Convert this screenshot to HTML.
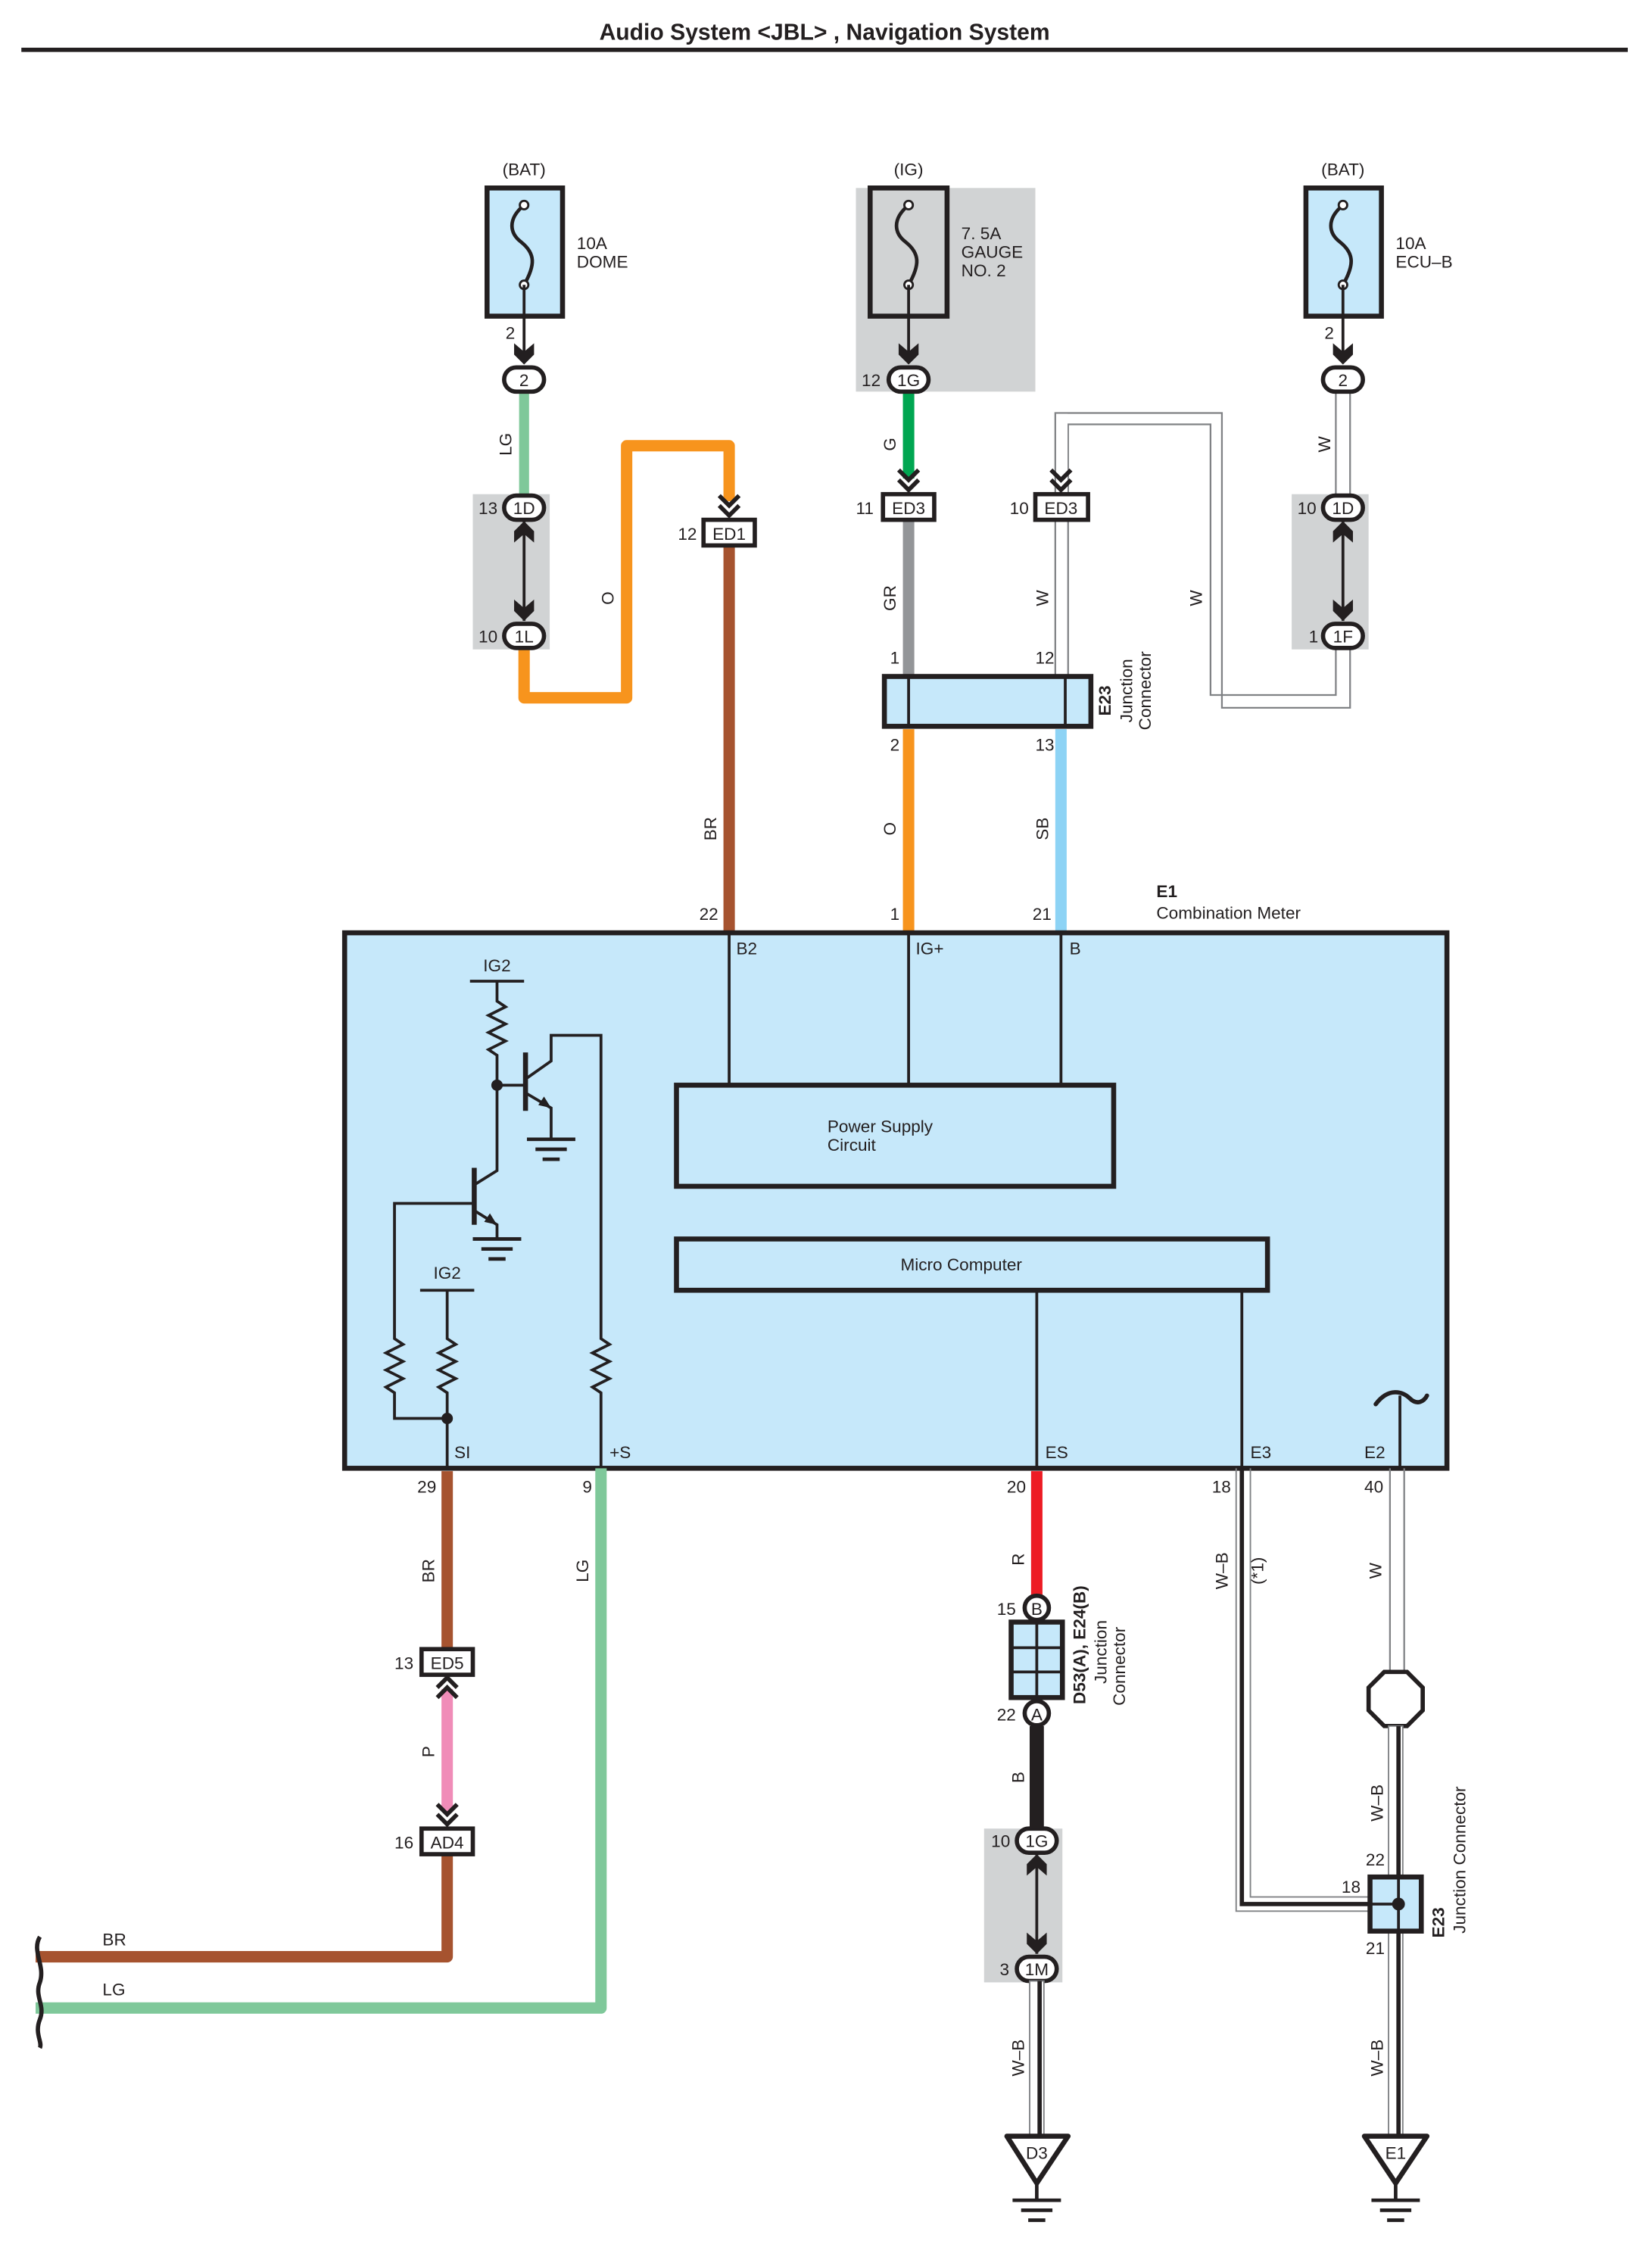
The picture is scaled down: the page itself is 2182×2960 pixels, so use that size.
<!DOCTYPE html>
<html><head><meta charset="utf-8"><style>
html,body{margin:0;padding:0;background:#fff;}
svg{display:block;}
text{font-family:"Liberation Sans",Arial,sans-serif;fill:#231f20;}
</style></head><body>
<svg width="2182" height="2960" viewBox="0 0 1160 1573.6" preserveAspectRatio="none" xmlns="http://www.w3.org/2000/svg">
<defs>
<g id="dn"><polygon points="-7,-15 0,-9 7,-15 7,-7 0,0 -7,-7" fill="#231f20"/></g>
<g id="up"><polygon points="-7,15 0,9 7,15 7,7 0,0 -7,7" fill="#231f20"/></g>
<g id="dd"><polyline points="-7,-16 0,-9 7,-16" fill="none" stroke="#231f20" stroke-width="3"/><polyline points="-7,-9 0,-2 7,-9" fill="none" stroke="#231f20" stroke-width="3"/></g>
<g id="du"><polyline points="-7,16 0,9 7,16" fill="none" stroke="#231f20" stroke-width="3"/><polyline points="-7,9 0,2 7,9" fill="none" stroke="#231f20" stroke-width="3"/></g>
<g id="fuse"><path d="M0,-28 C-12,-18 -10,-8 -2,-2 C8,6 8,14 0,28" fill="none" stroke="#231f20" stroke-width="2.5"/><circle cx="0" cy="-28" r="3" fill="#fff" stroke="#231f20" stroke-width="1.5"/><circle cx="0" cy="28" r="3" fill="#fff" stroke="#231f20" stroke-width="1.5"/></g>
<g id="gnd"><line x1="-17" y1="0" x2="17" y2="0" stroke="#231f20" stroke-width="2.5"/><line x1="-11" y1="7" x2="11" y2="7" stroke="#231f20" stroke-width="2.5"/><line x1="-6" y1="14" x2="6" y2="14" stroke="#231f20" stroke-width="2.5"/></g>
</defs>

<!-- title -->
<text x="579" y="28" font-size="16" font-weight="bold" text-anchor="middle">Audio System &lt;JBL&gt; , Navigation System</text>
<line x1="15" y1="35" x2="1143" y2="35" stroke="#231f20" stroke-width="3"/>

<!-- gray backgrounds -->
<rect x="601" y="132" width="126" height="143" fill="#d1d3d4"/>
<rect x="332" y="347" width="54" height="109" fill="#d1d3d4"/>
<rect x="907" y="347" width="54" height="109" fill="#d1d3d4"/>
<rect x="691" y="1284" width="55" height="108" fill="#d1d3d4"/>

<!-- fuses -->
<text x="368" y="123" font-size="12" text-anchor="middle">(BAT)</text>
<rect x="342" y="132" width="53" height="90" fill="#c6e8fa" stroke="#231f20" stroke-width="3.5"/>
<use href="#fuse" x="368" y="172"/>
<text x="405" y="175" font-size="12">10A</text><text x="405" y="188" font-size="12">DOME</text>

<text x="638" y="123" font-size="12" text-anchor="middle">(IG)</text>
<rect x="611" y="132" width="54" height="90" fill="#d1d3d4" stroke="#231f20" stroke-width="3.5"/>
<use href="#fuse" x="638" y="172"/>
<text x="675" y="168" font-size="12">7. 5A</text><text x="675" y="181" font-size="12">GAUGE</text><text x="675" y="194" font-size="12">NO. 2</text>

<text x="943" y="123" font-size="12" text-anchor="middle">(BAT)</text>
<rect x="917" y="132" width="53" height="90" fill="#c6e8fa" stroke="#231f20" stroke-width="3.5"/>
<use href="#fuse" x="943" y="172"/>
<text x="980" y="175" font-size="12">10A</text><text x="980" y="188" font-size="12">ECU–B</text>

<!-- fuse leads -->
<line x1="368" y1="200" x2="368" y2="255" stroke="#231f20" stroke-width="2"/>
<use href="#dn" x="368" y="256"/>
<text x="355" y="238" font-size="12">2</text>
<line x1="638" y1="200" x2="638" y2="255" stroke="#231f20" stroke-width="2"/>
<use href="#dn" x="638" y="256"/>
<line x1="943" y1="200" x2="943" y2="255" stroke="#231f20" stroke-width="2"/>
<use href="#dn" x="943" y="256"/>
<text x="930" y="238" font-size="12">2</text>

<!-- LG wire top left -->
<line x1="368" y1="272" x2="368" y2="350" stroke="#7fc89a" stroke-width="7"/>
<text transform="translate(359,312) rotate(-90)" font-size="12" text-anchor="middle">LG</text>
<line x1="368" y1="366" x2="368" y2="436" stroke="#231f20" stroke-width="2"/>
<use href="#up" x="368" y="366"/><use href="#dn" x="368" y="436"/>

<!-- orange O wire -->
<polyline points="368,452 368,490 440,490 440,313 512,313 512,352" fill="none" stroke="#f7941d" stroke-width="8" stroke-linejoin="round"/>
<text transform="translate(431,420) rotate(-90)" font-size="12" text-anchor="middle">O</text>
<use href="#dd" x="512" y="364"/>

<!-- BR to meter -->
<line x1="512" y1="383" x2="512" y2="654" stroke="#a6532f" stroke-width="8"/>
<text transform="translate(503,582) rotate(-90)" font-size="12" text-anchor="middle">BR</text>
<rect x="494" y="365" width="36" height="18" fill="#fff" stroke="#231f20" stroke-width="3"/>
<text x="512" y="379" font-size="12" text-anchor="middle">ED1</text>
<text x="476" y="379" font-size="12">12</text>

<!-- G wire -->
<line x1="638" y1="274" x2="638" y2="336" stroke="#00a651" stroke-width="8"/>
<text transform="translate(629,312) rotate(-90)" font-size="12" text-anchor="middle">G</text>
<use href="#dd" x="638" y="346"/>
<line x1="638" y1="365" x2="638" y2="476" stroke="#939598" stroke-width="8"/>
<text transform="translate(629,420) rotate(-90)" font-size="12" text-anchor="middle">GR</text>
<rect x="620" y="347" width="36" height="18" fill="#fff" stroke="#231f20" stroke-width="3"/>
<text x="638" y="361" font-size="12" text-anchor="middle">ED3</text>
<text x="601" y="361" font-size="12">11</text>

<!-- W double line -->
<g fill="none" stroke="#808285" stroke-width="1.2">
<polyline points="741,352 741,290 858,290 858,497 948,497 948,456"/>
<polyline points="750,352 750,298 850,298 850,488 938,488 938,456"/>
<line x1="741" y1="365" x2="741" y2="476"/><line x1="750" y1="365" x2="750" y2="476"/>
<line x1="938" y1="274" x2="938" y2="347"/><line x1="948" y1="274" x2="948" y2="347"/>
</g>
<rect x="741.6" y="290.6" width="8" height="61" fill="#fff"/>
<use href="#dd" x="745" y="346"/>
<text transform="translate(736,420) rotate(-90)" font-size="12" text-anchor="middle">W</text>
<text transform="translate(844,420) rotate(-90)" font-size="12" text-anchor="middle">W</text>
<text transform="translate(934,312) rotate(-90)" font-size="12" text-anchor="middle">W</text>
<rect x="727" y="347" width="37" height="18" fill="#fff" stroke="#231f20" stroke-width="3"/>
<text x="745" y="361" font-size="12" text-anchor="middle">ED3</text>
<text x="709" y="361" font-size="12">10</text>
<line x1="943" y1="366" x2="943" y2="436" stroke="#231f20" stroke-width="2"/>
<use href="#up" x="943" y="366"/><use href="#dn" x="943" y="436"/>

<!-- ovals -->
<g stroke="#231f20" stroke-width="3" fill="#fff">
<rect x="354" y="258" width="28" height="17" rx="8.5"/>
<rect x="624" y="258" width="28" height="17" rx="8.5"/>
<rect x="929" y="258" width="28" height="17" rx="8.5"/>
<rect x="354" y="348" width="28" height="17" rx="8.5"/>
<rect x="354" y="438" width="28" height="17" rx="8.5"/>
<rect x="929" y="348" width="28" height="17" rx="8.5"/>
<rect x="929" y="438" width="28" height="17" rx="8.5"/>
<rect x="714" y="1284" width="28" height="17" rx="8.5"/>
<rect x="714" y="1374" width="28" height="17" rx="8.5"/>
</g>
<g font-size="12" text-anchor="middle">
<text x="368" y="271">2</text><text x="638" y="271">1G</text><text x="943" y="271">2</text>
<text x="368" y="361">1D</text><text x="368" y="451">1L</text>
<text x="943" y="361">1D</text><text x="943" y="451">1F</text>
<text x="728" y="1297">1G</text><text x="728" y="1387">1M</text>
</g>
<g font-size="12">
<text x="605" y="271">12</text>
<text x="336" y="361">13</text><text x="336" y="451">10</text>
<text x="911" y="361">10</text><text x="919" y="451">1</text>
<text x="696" y="1297">10</text><text x="702" y="1387">3</text>
</g>

<!-- E23 top -->
<text x="625" y="466" font-size="12">1</text><text x="727" y="466" font-size="12">12</text>
<rect x="621" y="475" width="145" height="35" fill="#c6e8fa" stroke="#231f20" stroke-width="3.5"/>
<line x1="638" y1="475" x2="638" y2="510" stroke="#231f20" stroke-width="2"/>
<line x1="748" y1="475" x2="748" y2="510" stroke="#231f20" stroke-width="2"/>
<text transform="translate(780,492) rotate(-90)" font-size="12" font-weight="bold" text-anchor="middle">E23</text>
<text transform="translate(795,485) rotate(-90)" font-size="12" text-anchor="middle">Junction</text>
<text transform="translate(808,485) rotate(-90)" font-size="12" text-anchor="middle">Connector</text>

<line x1="638" y1="512" x2="638" y2="654" stroke="#f7941d" stroke-width="8"/>
<line x1="745" y1="512" x2="745" y2="654" stroke="#8dd3f5" stroke-width="8"/>
<text x="625" y="527" font-size="12">2</text><text x="727" y="527" font-size="12">13</text>
<text transform="translate(629,582) rotate(-90)" font-size="12" text-anchor="middle">O</text>
<text transform="translate(736,582) rotate(-90)" font-size="12" text-anchor="middle">SB</text>
<text x="491" y="646" font-size="12">22</text><text x="625" y="646" font-size="12">1</text><text x="725" y="646" font-size="12">21</text>
<text x="812" y="630" font-size="12" font-weight="bold">E1</text>
<text x="812" y="645" font-size="12">Combination Meter</text>

<!-- Meter box -->
<rect x="242" y="655" width="774" height="376" fill="#c6e8fa" stroke="#231f20" stroke-width="3.5"/>
<g stroke="#231f20" stroke-width="2" fill="none">
<line x1="512" y1="655" x2="512" y2="762"/><line x1="638" y1="655" x2="638" y2="762"/><line x1="745" y1="655" x2="745" y2="762"/>
<line x1="728" y1="906" x2="728" y2="1031"/><line x1="872" y1="906" x2="872" y2="1031"/>
<line x1="983" y1="980" x2="983" y2="1031"/>
</g>
<path d="M966,986 C975,974 985,977 990,982 C995,987 1000,984 1002,980" fill="none" stroke="#231f20" stroke-width="3" stroke-linecap="round"/>
<rect x="475" y="762" width="307" height="71" fill="none" stroke="#231f20" stroke-width="3.5"/>
<text x="581" y="795" font-size="12">Power Supply</text><text x="581" y="808" font-size="12">Circuit</text>
<rect x="475" y="870" width="415" height="36" fill="none" stroke="#231f20" stroke-width="3.5"/>
<text x="675" y="892" font-size="12" text-anchor="middle">Micro Computer</text>
<g font-size="12">
<text x="517" y="670">B2</text><text x="643" y="670">IG+</text><text x="751" y="670">B</text>
<text x="319" y="1024">SI</text><text x="428" y="1024">+S</text><text x="734" y="1024">ES</text><text x="878" y="1024">E3</text><text x="958" y="1024">E2</text>
</g>

<!-- internal circuit -->
<g stroke="#231f20" stroke-width="2" fill="none">
<line x1="330" y1="689" x2="368" y2="689"/>
<polyline points="349,689 349,703 355,707 343,713 355,719 343,725 355,731 343,737 349,741 349,822 333,832"/>
<line x1="349" y1="762" x2="369" y2="762"/>
<polyline points="370,757 387,745 387,727 422,727 422,940 428,944 416,950 428,956 416,962 428,968 416,974 422,978 422,1031"/>
<polyline points="370,768 387,778 387,800"/>
<polyline points="333,850 349,860 349,870"/>
<polyline points="333,845 277,845 277,940 283,944 271,950 283,956 271,962 283,968 271,974 277,978 277,996 314,996"/>
<line x1="295" y1="906" x2="333" y2="906"/>
<polyline points="314,906 314,940 320,944 308,950 320,956 308,962 320,968 308,974 314,978 314,1031"/>
</g>
<line x1="369" y1="739" x2="369" y2="780" stroke="#231f20" stroke-width="3.5"/>
<line x1="333" y1="820" x2="333" y2="860" stroke="#231f20" stroke-width="3.5"/>
<polygon points="387,778 378,776 382,770" fill="#231f20"/>
<polygon points="349,860 340,858 344,852" fill="#231f20"/>
<circle cx="349" cy="762" r="4" fill="#231f20"/>
<circle cx="314" cy="996" r="4" fill="#231f20"/>
<use href="#gnd" x="387" y="800"/>
<use href="#gnd" x="349" y="870"/>
<text x="349" y="682" font-size="12" text-anchor="middle">IG2</text>
<text x="314" y="898" font-size="12" text-anchor="middle">IG2</text>

<!-- below meter left -->
<text x="293" y="1048" font-size="12">29</text><text x="409" y="1048" font-size="12">9</text>
<polyline points="314,1033 314,1160" fill="none" stroke="#a6532f" stroke-width="8"/>
<text transform="translate(305,1103) rotate(-90)" font-size="12" text-anchor="middle">BR</text>
<text transform="translate(413,1103) rotate(-90)" font-size="12" text-anchor="middle">LG</text>
<rect x="296" y="1158" width="36" height="18" fill="#fff" stroke="#231f20" stroke-width="3"/>
<text x="314" y="1172" font-size="12" text-anchor="middle">ED5</text><text x="277" y="1172" font-size="12">13</text>
<line x1="314" y1="1186" x2="314" y2="1272" stroke="#f08cb8" stroke-width="8"/>
<use href="#du" x="314" y="1176"/>
<use href="#dd" x="314" y="1283"/>
<text transform="translate(305,1230) rotate(-90)" font-size="12" text-anchor="middle">P</text>
<polyline points="314,1302 314,1374 25,1374" fill="none" stroke="#a6532f" stroke-width="8" stroke-linejoin="round"/>
<rect x="296" y="1284" width="36" height="18" fill="#fff" stroke="#231f20" stroke-width="3"/>
<text x="314" y="1298" font-size="12" text-anchor="middle">AD4</text><text x="277" y="1298" font-size="12">16</text>
<polyline points="422,1031 422,1410 25,1410" fill="none" stroke="#7fc89a" stroke-width="8" stroke-linejoin="round"/>
<text x="72" y="1366" font-size="12">BR</text><text x="72" y="1401" font-size="12">LG</text>
<path d="M28,1360 C22,1370 32,1380 28,1392 C24,1402 32,1408 28,1418 C24,1428 30,1434 28,1438" fill="none" stroke="#231f20" stroke-width="3"/>

<!-- ES branch -->
<text x="707" y="1048" font-size="12">20</text>
<line x1="728" y1="1033" x2="728" y2="1122" stroke="#ed1c24" stroke-width="8"/>
<text transform="translate(719,1095) rotate(-90)" font-size="12" text-anchor="middle">R</text>
<circle cx="728" cy="1129" r="8.5" fill="#fff" stroke="#231f20" stroke-width="3"/>
<text x="728" y="1134" font-size="12" text-anchor="middle">B</text>
<text x="700" y="1134" font-size="12">15</text>
<rect x="710" y="1139" width="36" height="53" fill="#c6e8fa" stroke="#231f20" stroke-width="3.5"/>
<line x1="728" y1="1139" x2="728" y2="1192" stroke="#231f20" stroke-width="2"/>
<line x1="710" y1="1157" x2="746" y2="1157" stroke="#231f20" stroke-width="2"/>
<line x1="710" y1="1174" x2="746" y2="1174" stroke="#231f20" stroke-width="2"/>
<circle cx="728" cy="1203" r="8.5" fill="#fff" stroke="#231f20" stroke-width="3"/>
<text x="728" y="1208" font-size="12" text-anchor="middle">A</text>
<text x="700" y="1208" font-size="12">22</text>
<text transform="translate(762,1155) rotate(-90)" font-size="12" font-weight="bold" text-anchor="middle">D53(A), E24(B)</text>
<text transform="translate(777,1160) rotate(-90)" font-size="12" text-anchor="middle">Junction</text>
<text transform="translate(790,1170) rotate(-90)" font-size="12" text-anchor="middle">Connector</text>
<line x1="728" y1="1212" x2="728" y2="1284" stroke="#231f20" stroke-width="10"/>
<text transform="translate(719,1248) rotate(-90)" font-size="12" text-anchor="middle">B</text>
<line x1="728" y1="1302" x2="728" y2="1372" stroke="#231f20" stroke-width="2"/>
<use href="#up" x="728" y="1302"/><use href="#dn" x="728" y="1372"/>
<rect x="723" y="1391" width="10" height="116" fill="#fff" stroke="#808285" stroke-width="1"/>
<line x1="730" y1="1391" x2="730" y2="1507" stroke="#231f20" stroke-width="3"/>
<text transform="translate(719,1445) rotate(-90)" font-size="12" text-anchor="middle">W–B</text>
<polygon points="707,1500 750,1500 728,1533" fill="#fff" stroke="#231f20" stroke-width="3.5" stroke-linejoin="round"/>
<text x="728" y="1516" font-size="12" text-anchor="middle">D3</text>
<line x1="728" y1="1533" x2="728" y2="1545" stroke="#231f20" stroke-width="2.5"/>
<use href="#gnd" x="728" y="1545"/>

<!-- E3 branch -->
<text x="851" y="1048" font-size="12">18</text>
<polyline points="868,1031 868,1342 962,1342" fill="none" stroke="#808285" stroke-width="1"/>
<polyline points="878,1031 878,1332 962,1332" fill="none" stroke="#808285" stroke-width="1"/>
<polyline points="872,1031 872,1337 962,1337" fill="none" stroke="#231f20" stroke-width="3"/>
<text transform="translate(862,1103) rotate(-90)" font-size="12" text-anchor="middle">W–B</text>
<text transform="translate(887,1103) rotate(-90)" font-size="12" text-anchor="middle">(*1)</text>

<!-- E2 branch -->
<text x="958" y="1048" font-size="12">40</text>
<line x1="976" y1="1031" x2="976" y2="1175" stroke="#808285" stroke-width="1.2"/>
<line x1="986" y1="1031" x2="986" y2="1175" stroke="#808285" stroke-width="1.2"/>
<text transform="translate(970,1103) rotate(-90)" font-size="12" text-anchor="middle">W</text>
<polygon points="972,1174 988,1174 999,1185 999,1201 988,1212 972,1212 961,1201 961,1185" fill="#fff" stroke="#231f20" stroke-width="3"/>
<rect x="975" y="1212" width="10" height="295" fill="#fff" stroke="#808285" stroke-width="1"/>
<line x1="982" y1="1212" x2="982" y2="1507" stroke="#231f20" stroke-width="3"/>
<text transform="translate(971,1266) rotate(-90)" font-size="12" text-anchor="middle">W–B</text>
<text transform="translate(971,1445) rotate(-90)" font-size="12" text-anchor="middle">W–B</text>
<text x="959" y="1310" font-size="12">22</text><text x="942" y="1329" font-size="12">18</text><text x="959" y="1372" font-size="12">21</text>
<rect x="962" y="1318" width="36" height="38" fill="#c6e8fa" stroke="#231f20" stroke-width="3.5"/>
<line x1="962" y1="1337" x2="982" y2="1337" stroke="#231f20" stroke-width="2"/>
<line x1="982" y1="1318" x2="982" y2="1356" stroke="#231f20" stroke-width="2"/>
<circle cx="982" cy="1337" r="4.5" fill="#231f20"/>
<text transform="translate(1014,1350) rotate(-90)" font-size="12" font-weight="bold" text-anchor="middle">E23</text>
<text transform="translate(1029,1306) rotate(-90)" font-size="12" text-anchor="middle">Junction Connector</text>
<polygon points="958,1500 1002,1500 980,1533" fill="#fff" stroke="#231f20" stroke-width="3.5" stroke-linejoin="round"/>
<text x="980" y="1516" font-size="12" text-anchor="middle">E1</text>
<line x1="980" y1="1533" x2="980" y2="1545" stroke="#231f20" stroke-width="2.5"/>
<use href="#gnd" x="980" y="1545"/>
</svg>
</body></html>
